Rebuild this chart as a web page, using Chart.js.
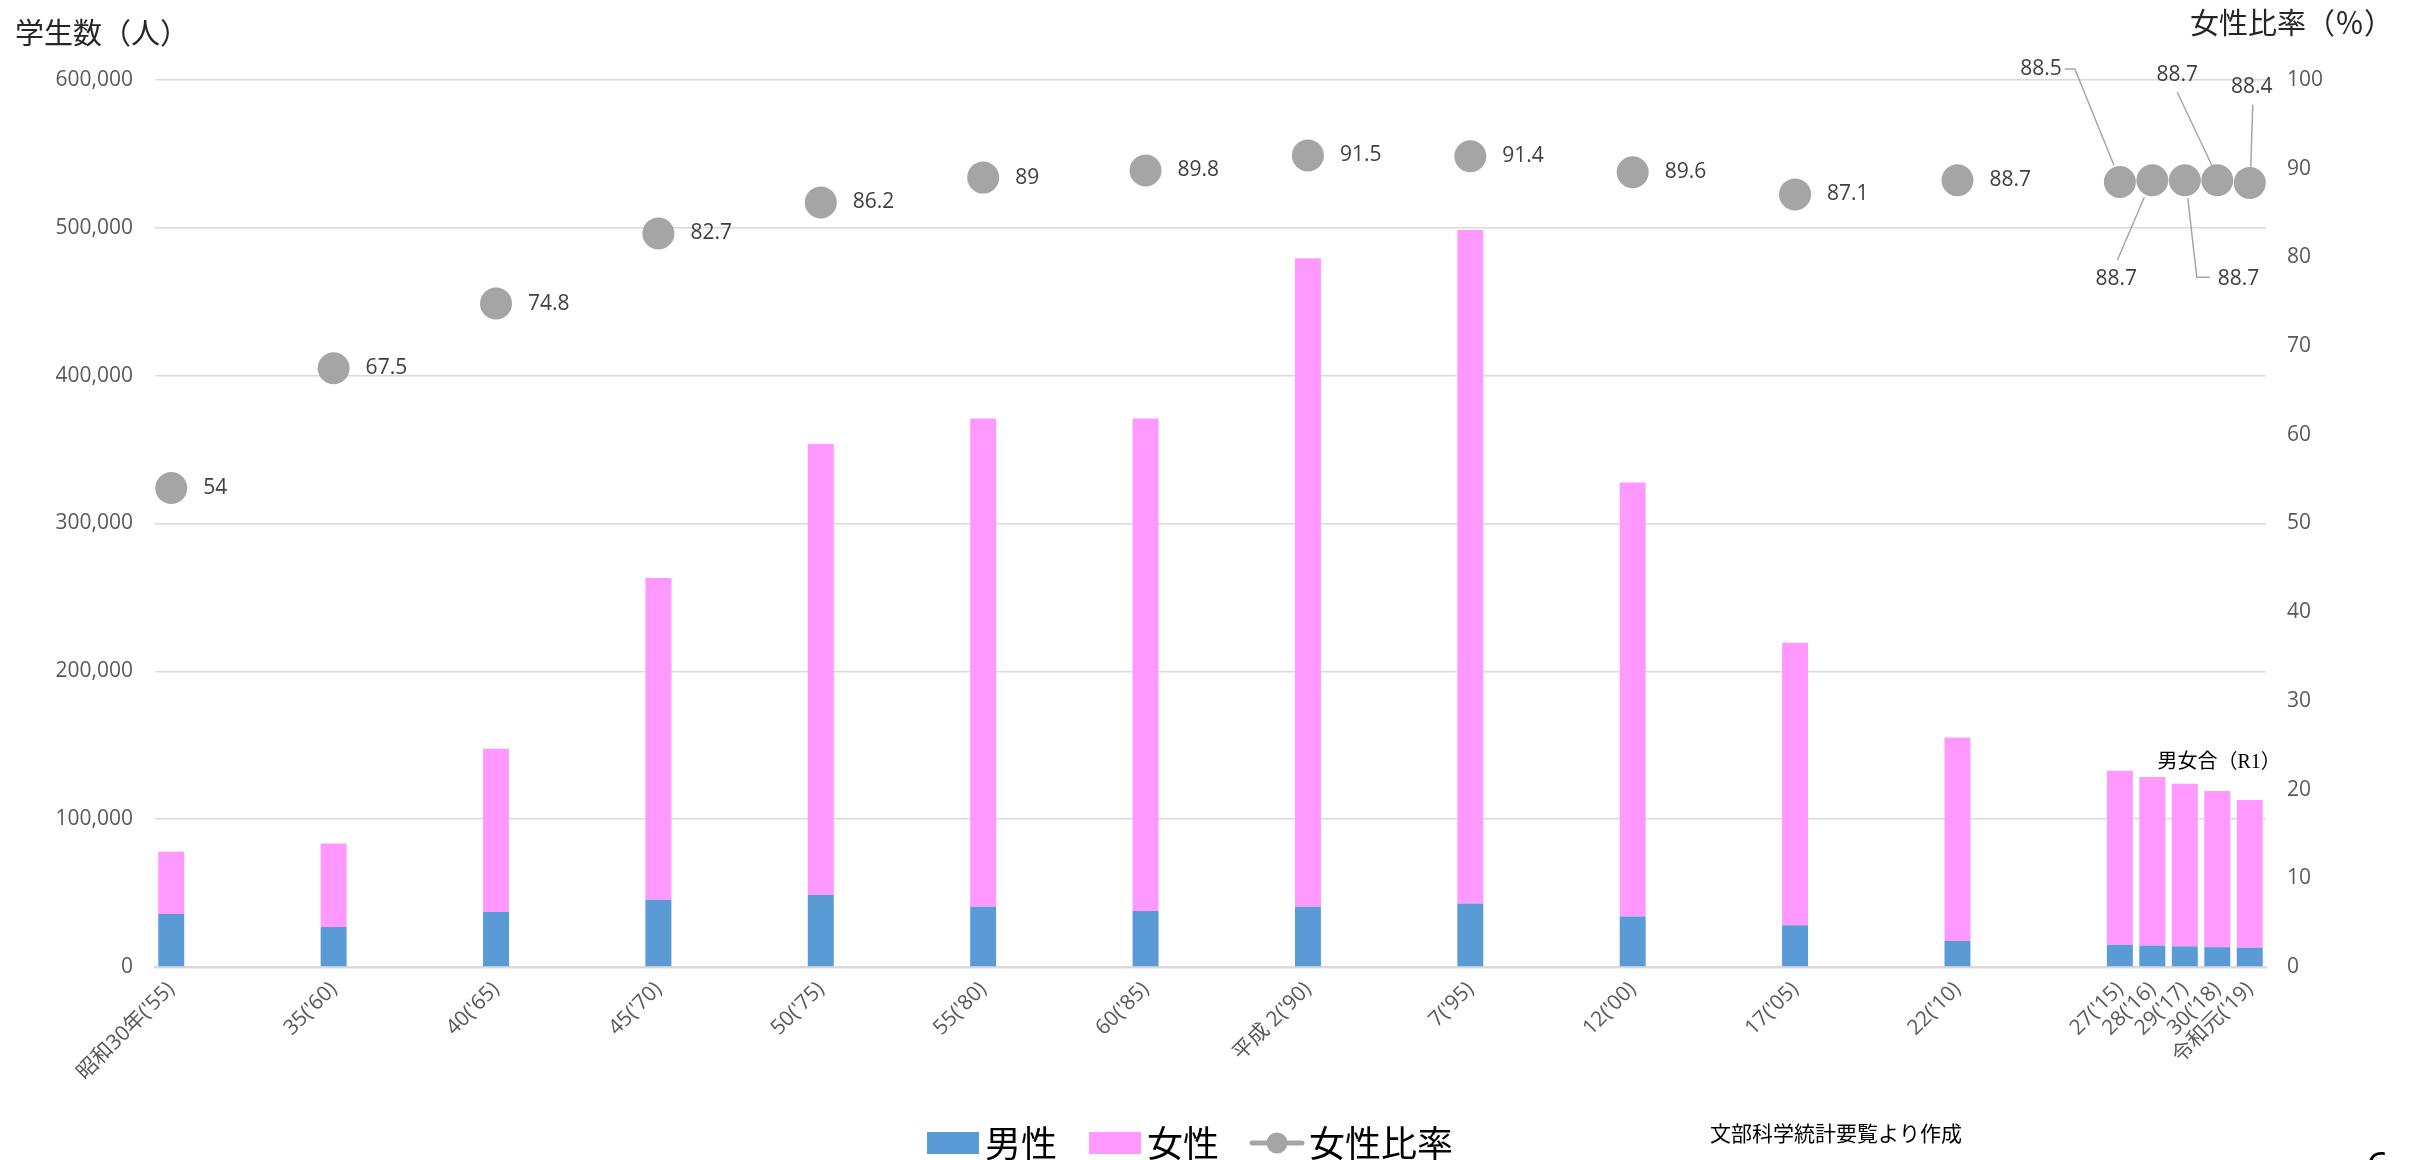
<!DOCTYPE html>
<html><head><meta charset="utf-8">
<script src="https://cdn.jsdelivr.net/npm/chart.js@4"></script>
<style>html,body{margin:0;padding:0;overflow:hidden;background:#fff}</style>
</head><body>
<canvas id="c" width="2412" height="1171"></canvas>
<script>
// ---- data ----
const years = [1955,1960,1965,1970,1975,1980,1985,1990,1995,2000,2005,2010,2015,2016,2017,2018,2019];
const xLabels = ["昭和30年('55)","35('60)","40('65)","45('70)","50('75)","55('80)","60('85)","平成 2('90)","7('95)","12('00)","17('05)","22('10)","27('15)","28('16)","29('17)","30('18)","令和元('19)"];
const male   = [35900,27100,37200,45500,48800,40800,37800,40800,42900,34100,28300,17600,15000,14500,14000,13400,13100];
const female = [42000,56400,110400,217700,305000,330300,333300,438600,455600,293600,191100,137700,117700,114000,109900,105600,99900];
const femaleRatio = [54,67.5,74.8,82.7,86.2,89,89.8,91.5,91.4,89.6,87.1,88.7,88.5,88.7,88.7,88.7,88.4];
const seriesNames = ["男性","女性","女性比率"];
const leftTitle = "学生数（人）";
const rightTitle = "女性比率（％）";
const sourceNote = "文部科学統計要覧より作成";
const annotation = "男女合（R1）";

// ---- style ----
const FONT = "'Open Sans','Noto Sans CJK JP',sans-serif";
const CJK = "'Noto Sans CJK JP','Open Sans',sans-serif";
const BLUE = '#5B9BD5', PINK = '#FF99FF', GRAY = '#A5A5A5';
Chart.defaults.font.family = FONT;

// label placements for crowded points (offsets relative to point, in px)
const labelPlacement = {
  12: {dx:-58, dy:-113, align:'right', leader:[[-55,-113],[-45,-113],[-6,-17]]},
  13: {dx:-36, dy:99, align:'center', leader:[[-35,80],[-8,17]]},
  14: {dx:33, dy:99, align:'left', leader:[[25,97],[12,97],[3,18]]},
  15: {dx:-40, dy:-105, align:'center', leader:[[-40,-88],[-5,-14]]},
  16: {dx:2, dy:-96, align:'center', leader:[[3,-78],[1,-16]]}
};

function makeBox(color){
  const c=document.createElement('canvas'); c.width=52; c.height=22;
  const g=c.getContext('2d'); g.fillStyle=color; g.fillRect(0,0,52,22); return c;
}
function makeLineMarker(){
  const c=document.createElement('canvas'); c.width=56; c.height=22;
  const g=c.getContext('2d'); g.strokeStyle=GRAY; g.lineWidth=5; g.lineCap='round';
  g.beginPath(); g.moveTo(3,11); g.lineTo(53,11); g.stroke();
  g.fillStyle=GRAY; g.beginPath(); g.arc(28,11,10.5,0,Math.PI*2); g.fill(); return c;
}
const legendImgs=[makeBox(BLUE),makeBox(PINK),makeLineMarker()];

const textPlugin = {
  id:'texts',
  afterDatasetsDraw(chart){
    const ctx=chart.ctx;
    const meta=chart.getDatasetMeta(2);
    ctx.save();
    ctx.font="21px "+FONT; ctx.fillStyle='#404040'; ctx.textBaseline='middle';
    meta.data.forEach((pt,i)=>{
      const txt=String(femaleRatio[i]);
      const p=labelPlacement[i];
      if(p){
        ctx.strokeStyle='#A6A6A6'; ctx.lineWidth=1.5;
        ctx.beginPath();
        p.leader.forEach((q,k)=>{ const X=pt.x+q[0], Y=pt.y+q[1]; k?ctx.lineTo(X,Y):ctx.moveTo(X,Y); });
        ctx.stroke();
        ctx.textAlign=p.align; ctx.fillText(txt,pt.x+p.dx,pt.y+p.dy);
      } else {
        ctx.textAlign='left'; ctx.fillText(txt,pt.x+32,pt.y);
      }
    });
    ctx.restore();
  },
  afterDraw(chart){
    const ctx=chart.ctx;
    const xs=chart.scales.x, ys=chart.scales.y;
    ctx.save();
    ctx.textBaseline='middle'; ctx.fillStyle='#262626';
    ctx.font="29px "+CJK;
    ctx.textAlign='left'; ctx.fillText(leftTitle,15,33);
    ctx.textAlign='right'; ctx.fillText(rightTitle,2393,23);
    ctx.fillStyle='#000';
    ctx.font="21px "+CJK; ctx.textAlign='left'; ctx.fillText(sourceNote,1710,1133);
    ctx.font="20px 'Liberation Serif','Noto Sans CJK JP',serif"; ctx.textAlign='right';
    const last=years.length-1;
    ctx.fillText(annotation, xs.getPixelForValue(years[last])+31, ys.getPixelForValue(male[last]+female[last])-37);
    ctx.font="40px "+FONT; ctx.textAlign='left'; ctx.textBaseline='top';
    ctx.fillText('6',2366,1150);
    ctx.restore();
  }
};

new Chart(document.getElementById('c'),{
  type:'bar',
  data:{
    datasets:[
      {label:seriesNames[0], data:years.map((y,i)=>({x:y,y:male[i]})), backgroundColor:BLUE, stack:'s', order:2, yAxisID:'y', barPercentage:1, categoryPercentage:0.8},
      {label:seriesNames[1], data:years.map((y,i)=>({x:y,y:female[i]})), backgroundColor:PINK, stack:'s', order:2, yAxisID:'y', barPercentage:1, categoryPercentage:0.8},
      {type:'line', label:seriesNames[2], data:years.map((y,i)=>({x:y,y:femaleRatio[i]})), yAxisID:'y1', showLine:false, order:0,
       pointRadius:16, pointHoverRadius:16, pointBackgroundColor:GRAY, pointBorderColor:GRAY, pointBorderWidth:0, backgroundColor:GRAY, borderColor:GRAY}
    ]
  },
  options:{
    responsive:false, devicePixelRatio:1, animation:false,
    layout:{padding:{top:80,left:0,right:20,bottom:0}},
    plugins:{
      tooltip:{enabled:false},
      legend:{position:'bottom', labels:{usePointStyle:true, pointStyleWidth:28, padding:44, color:'#595959', font:{size:36,family:CJK},
        generateLabels:()=>seriesNames.map((n,i)=>({text:n, pointStyle:legendImgs[i], fillStyle:'transparent', strokeStyle:'transparent', lineWidth:0, hidden:false, datasetIndex:i}))}}
    },
    scales:{
      x:{type:'linear', min:1954.5, max:2019.5, offset:false, stacked:true,
        grid:{display:false, drawTicks:false}, border:{display:true,color:'#D9D9D9',width:2.5},
        afterBuildTicks:s=>{ s.ticks=years.map(v=>({value:v})); },
        afterFit:s=>{ s.height=114; },
        ticks:{autoSkip:false, maxRotation:45, minRotation:45, padding:10, color:'#595959', font:{size:21,family:FONT}, callback:(v,i)=>xLabels[i]}
      },
      y:{position:'left', min:0, max:600000, stacked:true,
        ticks:{stepSize:100000, padding:22, color:'#595959', font:{size:21}, callback:v=>v.toLocaleString('en-US')},
        grid:{color:'#D9D9D9', lineWidth:1.5, drawTicks:false}, border:{display:false},
        afterFit:s=>{ s.width=155; }
      },
      y1:{position:'right', min:0, max:100,
        ticks:{stepSize:10, padding:21, color:'#595959', font:{size:21}},
        grid:{display:false, drawTicks:false}, border:{display:false},
        afterFit:s=>{ s.width=126; }
      }
    }
  },
  plugins:[textPlugin]
});
</script>
</body></html>
